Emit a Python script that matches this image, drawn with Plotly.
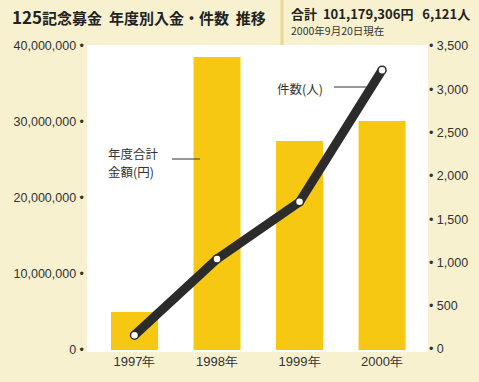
import plotly.graph_objects as go

years = ["1997年", "1998年", "1999年", "2000年"]
amounts = [5000000, 38550000, 27500000, 30129306]
counts = [160, 1040, 1700, 3221]
left_ticks = [0, 10000000, 20000000, 30000000, 40000000]
right_ticks = [0, 500, 1000, 1500, 2000, 2500, 3000, 3500]

BG = "#f8f1cf"
BAR = "#f7c812"
DARK = "#2b2b2b"
FONT = "Noto Sans CJK JP"
TICKFONT = "Liberation Sans, Arial"

fig = go.Figure()
fig.add_trace(go.Bar(x=years, y=amounts, marker=dict(color=BAR, line=dict(width=0)),
                     yaxis="y", showlegend=False, hoverinfo="skip"))
fig.add_trace(go.Scatter(x=years, y=counts, yaxis="y2", mode="lines+markers",
                         line=dict(color=DARK, width=9),
                         marker=dict(size=8, color="white", line=dict(color=DARK, width=1.5)),
                         showlegend=False))

W, H = 479, 382
L, R, T, B = 87, 51, 45, 30
fig.update_layout(
    width=W, height=H,
    margin=dict(l=L, r=R, t=T, b=B),
    paper_bgcolor=BG, plot_bgcolor="white",
    bargap=0.43,
    font=dict(family=FONT, color="#333333", size=12),
    xaxis=dict(range=[-0.576, 3.557], showgrid=False, zeroline=False, showline=False,
               tickfont=dict(family=TICKFONT, size=13, color="#333333")),
    yaxis=dict(range=[-263000, 40130000], tickvals=left_ticks,
               ticktext=[f"{v:,} •" for v in left_ticks], ticklabelstandoff=2,
               showgrid=False, zeroline=False, showline=False,
               tickfont=dict(family=TICKFONT, size=12.5, color="#333333")),
    yaxis2=dict(range=[-34.7, 3511.6], tickvals=right_ticks,
                ticktext=[f"• {v:,}" for v in right_ticks], ticklabelstandoff=0,
                overlaying="y", side="right", showgrid=False,
                zeroline=False, showline=False,
                tickfont=dict(family=TICKFONT, size=12.5, color="#333333")),
)

def px_x(p):
    return (p - L) / (W - L - R)

def px_y(p):
    return 1 - (p - T) / (H - T - B)

# title bar
fig.add_annotation(xref="paper", yref="paper", x=px_x(10), y=px_y(17),
                   xanchor="left", yanchor="middle", showarrow=False,
                   text="<b><span style='font-size:17px'>125</span>記念募金  年度別入金・件数  推移</b>",
                   font=dict(family=FONT, size=15, color="#222222"))
fig.add_shape(type="line", xref="paper", yref="paper",
              x0=px_x(282), x1=px_x(282), y0=1, y1=px_y(0),
              line=dict(color="#e8d890", width=3))
fig.add_annotation(xref="paper", yref="paper", x=px_x(289), y=px_y(14),
                   xanchor="left", yanchor="middle", showarrow=False,
                   text="<b>合計  101,179,306円   6,121人</b>",
                   font=dict(family=FONT, size=13, color="#222222"))
fig.add_annotation(xref="paper", yref="paper", x=px_x(289), y=px_y(31),
                   xanchor="left", yanchor="middle", showarrow=False,
                   text="2000年9月20日現在",
                   font=dict(family=FONT, size=10.5, color="#333333"))

# callouts
fig.add_annotation(xref="paper", yref="paper", x=px_x(106), y=px_y(153), xanchor="left",
                   yanchor="middle", showarrow=False,
                   text="年度合計", font=dict(family=FONT, size=12.5, color="#333333"))
fig.add_annotation(xref="paper", yref="paper", x=px_x(106), y=px_y(171), xanchor="left",
                   yanchor="middle", showarrow=False,
                   text="金額(円)", font=dict(family=FONT, size=12.5, color="#333333"))
fig.add_shape(type="line", xref="paper", yref="paper", x0=px_x(172), x1=px_x(200),
              y0=px_y(159), y1=px_y(159), line=dict(color="#333333", width=1))
fig.add_annotation(xref="paper", yref="paper", x=px_x(275), y=px_y(88), xanchor="left",
                   yanchor="middle", showarrow=False,
                   text="件数(人)", font=dict(family=FONT, size=12.5, color="#333333"))
fig.add_shape(type="line", xref="paper", yref="paper", x0=px_x(334), x1=px_x(368),
              y0=px_y(87), y1=px_y(87), line=dict(color="#333333", width=1))

fig.write_html("out.html")
